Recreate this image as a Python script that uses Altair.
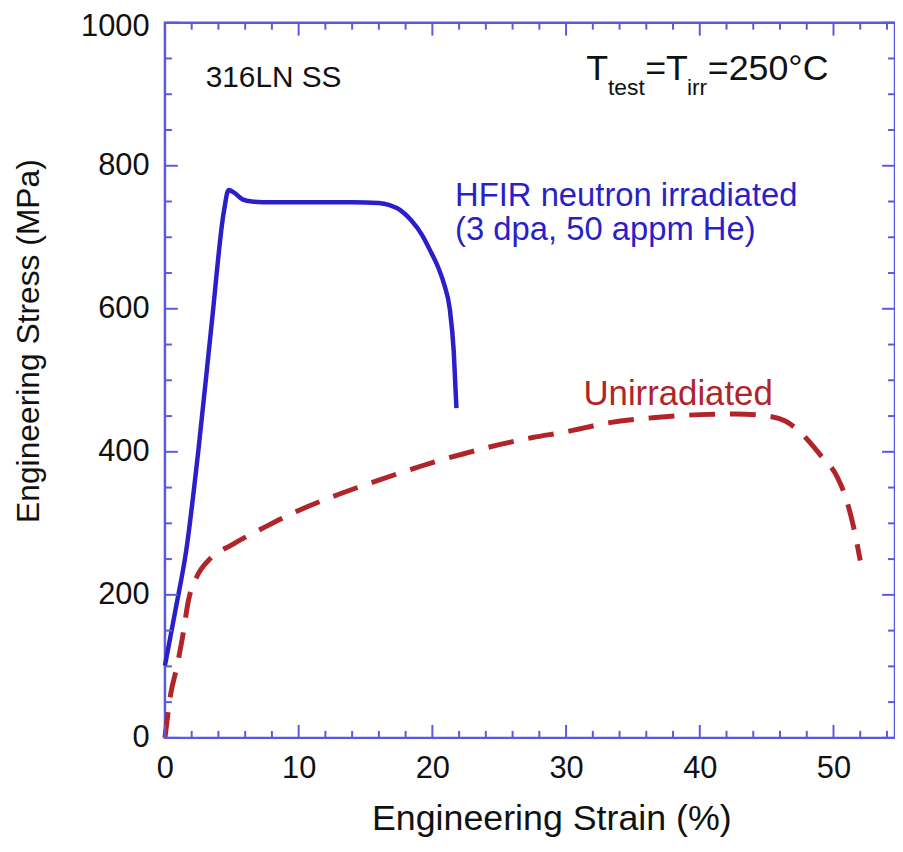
import altair as alt
import pandas as pd

# ---- data ----
hfir_strain = [0.0, 0.8, 1.6, 2.5, 3.5, 4.4, 4.76, 5.2, 5.8, 6.5, 8.0, 10.0, 12.0, 14.0, 16.0, 16.8, 17.6, 18.4, 19.2, 19.9, 20.5, 20.9, 21.3, 21.6, 21.8]
hfir_stress = [101, 180, 263, 402, 580, 735, 766, 762, 753, 750, 749, 749, 749, 749, 748, 745, 738, 724, 704, 679, 655, 633, 600, 540, 461]

unirr_strain = [0.0, 0.42, 0.9, 1.29, 1.78, 2.4, 3.4, 5.0, 7.5, 10.0, 12.5, 15.0, 17.5, 20.0, 22.5, 25.0, 27.5, 30.0, 33.0, 36.7, 40.0, 42.7, 45.1, 46.4, 47.9, 49.0, 50.3, 50.9, 51.5, 52.0]
unirr_stress = [0, 60, 100, 138, 194, 226, 251, 270, 295, 318, 337, 354, 370, 385, 398, 410, 420, 428, 440, 448, 452, 453, 450, 443, 420, 396, 364, 337, 295, 248]

x_major = [0, 10, 20, 30, 40, 50]
x_minor = [2, 4, 6, 8, 12, 14, 16, 18, 22, 24, 26, 28, 32, 34, 36, 38, 42, 44, 46, 48, 52, 54]
y_major = [0, 200, 400, 600, 800, 1000]
y_minor = [50, 100, 150, 250, 300, 350, 450, 500, 550, 650, 700, 750, 850, 900, 950]

ann_text = ["316LN SS", "HFIR neutron irradiated", "(3 dpa, 50 appm He)", "Unirradiated"]
ann_x = [3.05, 21.7, 21.7, 31.3]
ann_y = [910, 744, 696, 466]

temp_parts = ["T", "test", "=T", "irr", "=250°C"]
temp_x = 31.5
temp_y = 920

# ---- styling ----
W, H = 735, 720
FONT = "Liberation Sans"
FRAME = "#5a5ae0"
BLUE = "#2a1fc9"
RED = "#b0242a"
XS = alt.Scale(domain=[0, 54.6], nice=False, zero=False)
YS = alt.Scale(domain=[0, 1000], nice=False, zero=False)

hfir = pd.DataFrame({"strain": hfir_strain, "stress": hfir_stress, "o": range(len(hfir_strain))})
unirr = pd.DataFrame({"strain": unirr_strain, "stress": unirr_stress, "o": range(len(unirr_strain))})

x_axis = alt.Axis(values=x_major, format="d", ticks=False, domain=False, grid=False,
                  labelFlush=False,
                  labelFont=FONT, labelFontSize=31, labelColor="#111", labelPadding=16,
                  title="Engineering Strain (%)", titleFont=FONT, titleFontSize=36,
                  titleFontWeight="normal", titleColor="#111", titleX=389, titleY=92,
                  titleBaseline="alphabetic")
y_axis = alt.Axis(values=y_major, format="d", ticks=False, domain=False, grid=False,
                  labelFlush=False,
                  labelOffset={"condition": {"test": "datum.value == 1000", "value": 4}, "value": 0},
                  labelFont=FONT, labelFontSize=31, labelColor="#111", labelPadding=16,
                  title="Engineering Stress (MPa)", titleFont=FONT, titleFontSize=32,
                  titleFontWeight="normal", titleColor="#111", titleX=-127, titleY=320,
                  titleAngle=270, titleBaseline="alphabetic")

X = alt.X("strain:Q", scale=XS, axis=x_axis)
Y = alt.Y("stress:Q", scale=YS, axis=y_axis)

hfir_line = alt.Chart(hfir).mark_line(color=BLUE, strokeWidth=4.5, strokeJoin="round",
                                      interpolate="monotone").encode(x=X, y=Y, order="o:Q")
unirr_line = alt.Chart(unirr).mark_line(color=RED, strokeWidth=5, strokeDash=[26, 15],
                                        interpolate="monotone").encode(x=X, y=Y, order="o:Q")

layers = [hfir_line, unirr_line]

def xticks(vals, length):
    d = pd.DataFrame({"strain": vals})
    bot = alt.Chart(d).mark_rule(color=FRAME, strokeWidth=2).encode(
        x=X, y=alt.value(H), y2=alt.value(H - length))
    top = alt.Chart(d).mark_rule(color=FRAME, strokeWidth=2).encode(
        x=X, y=alt.value(0), y2=alt.value(length))
    return [bot, top]

def yticks(vals, length):
    d = pd.DataFrame({"stress": vals})
    left = alt.Chart(d).mark_rule(color=FRAME, strokeWidth=2).encode(
        y=Y, x=alt.value(0), x2=alt.value(length))
    right = alt.Chart(d).mark_rule(color=FRAME, strokeWidth=2).encode(
        y=Y, x=alt.value(W), x2=alt.value(W - length))
    return [left, right]

layers += xticks(x_major, 13) + xticks(x_minor, 7) + yticks(y_major, 13) + yticks(y_minor, 7)

ann = pd.DataFrame({"strain": ann_x, "stress": ann_y, "t": ann_text})
styles = [(30, "#111"), (33, BLUE), (33, BLUE), (35, RED)]
for i, (fs, col) in enumerate(styles):
    layers.append(
        alt.Chart(ann.iloc[[i]]).mark_text(align="left", baseline="alphabetic", font=FONT,
                                           fontSize=fs, color=col).encode(
            x=X, y=Y, text="t:N")
    )

# T_test = T_irr = 250°C built from pieces (subscripts smaller and lowered)
tdf = pd.DataFrame({"strain": [temp_x], "stress": [temp_y]})
piece_style = [(36, 0, 0), (23, 22.0, 15), (36, 59.5, 0), (23, 101.5, 15), (36, 122.5, 0)]
for txt, (fs, dx, dy) in zip(temp_parts, piece_style):
    layers.append(
        alt.Chart(tdf).mark_text(align="left", baseline="alphabetic", font=FONT, fontSize=fs,
                                 color="#111", dx=dx, dy=dy, text=txt).encode(x=X, y=Y)
    )

chart = alt.layer(*layers).properties(
    width=W, height=H,
    autosize=alt.AutoSizeParams(type="none"),
    padding={"left": 158, "top": 12, "right": 0, "bottom": 100},
).configure_view(stroke=FRAME, strokeWidth=2.5)

chart.save("out.html", embed_options={"renderer": "svg", "actions": False})
